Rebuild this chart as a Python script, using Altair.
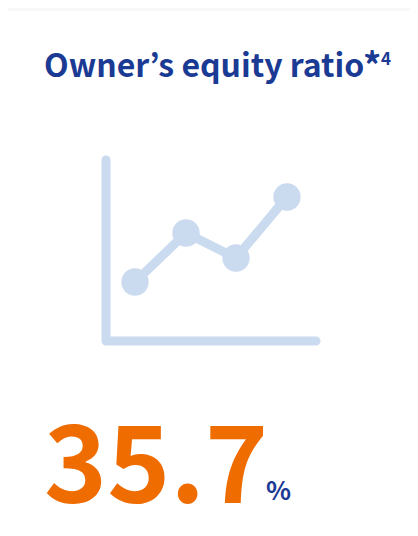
import altair as alt
import pandas as pd

# icon series, in units measured from the icon's own origin
point_x = [29, 80, 130, 181]
point_y = [59, 108, 83, 144]
axis_x = [0, 0, 210]
axis_y = [181, 0, 0]
title_text = "Owner’s equity ratio"
title_note = "*"
title_note2 = "4"
value_text = "35.7"
unit_text = "%"

NAVY = "#1a3a94"
ORANGE = "#ef6c00"
ICON = "#cadaef"
FONT = "Noto Sans CJK JP"
W, H = 402, 515

x_scale = alt.Scale(domain=[-98, 304], nice=False, zero=False)
y_scale = alt.Scale(domain=[-182, 333], nice=False, zero=False)
X = alt.X("x:Q", scale=x_scale, axis=None)
Y = alt.Y("y:Q", scale=y_scale, axis=None)

points = pd.DataFrame({"x": point_x, "y": point_y, "o": range(4)})
axes = pd.DataFrame({"x": axis_x, "y": axis_y, "o": range(3)})
one = pd.DataFrame({"a": [0]})

axis_line = alt.Chart(axes).mark_line(
    color=ICON, strokeWidth=9, strokeCap="round", strokeJoin="round"
).encode(x=X, y=Y, order="o:O")
series_line = alt.Chart(points).mark_line(color=ICON, strokeWidth=9).encode(
    x=X, y=Y, order="o:O"
)
dots = alt.Chart(points).mark_point(
    filled=True, color=ICON, opacity=1, size=745
).encode(x=X, y=Y)


def label(text, px, py, size, color, weight="bold"):
    return alt.Chart(one).mark_text(
        text=text, font=FONT, fontSize=size, fontWeight=weight, color=color,
        align="left", baseline="alphabetic",
    ).encode(x=alt.value(px), y=alt.value(py))


top_strip = alt.Chart(one).mark_rect(color="#f8f8f8").encode(
    x=alt.value(0), x2=alt.value(W), y=alt.value(0), y2=alt.value(3)
)

chart = alt.layer(
    top_strip,
    axis_line,
    series_line,
    dots,
    label(title_text, 36, 69, 32, NAVY),
    label(title_note, 355, 71, 36, NAVY),
    label(title_note2, 373, 57, 17, NAVY),
    label(value_text, 36, 495, 107, ORANGE),
    label(unit_text, 258, 492, 26, NAVY),
).properties(
    width=W, height=H, background="white", padding=0,
    autosize=alt.AutoSizeParams(type="none"),
).configure_view(stroke=None)

chart.save("out.html", embed_options={"renderer": "svg", "actions": False})
